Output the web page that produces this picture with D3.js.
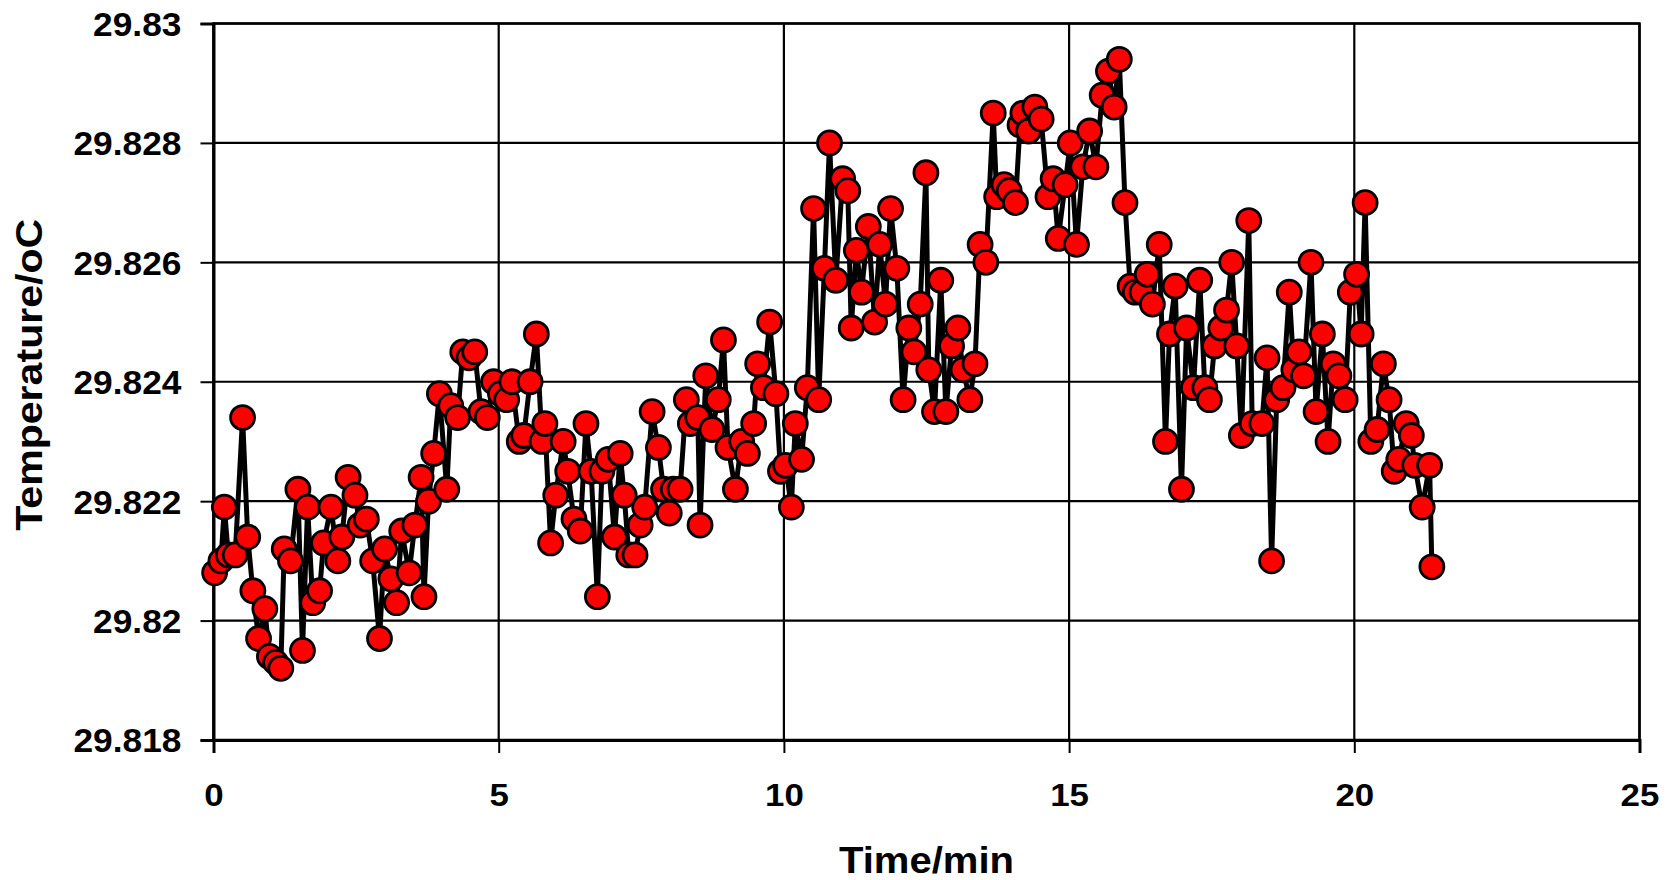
<!DOCTYPE html>
<html>
<head>
<meta charset="utf-8">
<script src="https://cdn.jsdelivr.net/npm/d3@7"></script>
<style>
  html, body { margin: 0; padding: 0; background: #fff; }
  svg { display: block; }
  text { font-family: "Liberation Sans", Arial, sans-serif; font-weight: bold; fill: #000; }
</style>
</head>
<body>
<svg id="chart" width="1677" height="880"></svg>
<script>
// Sampling times (min)
const timeMin = [
  0.02, 0.13, 0.19, 0.26, 0.38, 0.51, 0.60, 0.69, 0.79, 0.90,
  0.98, 1.09, 1.18, 1.24, 1.35, 1.48, 1.56, 1.65, 1.74, 1.86,
  1.93, 2.06, 2.18, 2.25, 2.36, 2.48, 2.57, 2.68, 2.79, 2.91,
  3.00, 3.11, 3.21, 3.30, 3.43, 3.53, 3.64, 3.69, 3.77, 3.86,
  3.96, 4.09, 4.16, 4.28, 4.37, 4.48, 4.58, 4.69, 4.80, 4.91,
  5.03, 5.14, 5.23, 5.36, 5.44, 5.55, 5.66, 5.76, 5.81, 5.91,
  6.00, 6.13, 6.21, 6.32, 6.43, 6.53, 6.62, 6.73, 6.81, 6.92,
  7.03, 7.13, 7.20, 7.28, 7.39, 7.48, 7.56, 7.69, 7.80, 7.89,
  7.99, 8.06, 8.18, 8.29, 8.36, 8.49, 8.53, 8.63, 8.74, 8.85,
  8.94, 9.02, 9.15, 9.26, 9.36, 9.47, 9.54, 9.64, 9.75, 9.86,
  9.94, 10.03, 10.13, 10.20, 10.31, 10.41, 10.52, 10.61, 10.71, 10.80,
  10.91, 11.03, 11.12, 11.18, 11.27, 11.36, 11.48, 11.59, 11.68, 11.78,
  11.87, 11.98, 12.09, 12.19, 12.28, 12.39, 12.49, 12.54, 12.64, 12.75,
  12.84, 12.94, 13.05, 13.14, 13.26, 13.35, 13.44, 13.54, 13.67, 13.73,
  13.86, 13.95, 14.06, 14.14, 14.19, 14.29, 14.40, 14.51, 14.63, 14.72,
  14.81, 14.93, 15.02, 15.13, 15.24, 15.36, 15.47, 15.58, 15.69, 15.79,
  15.88, 15.98, 16.07, 16.16, 16.28, 16.37, 16.46, 16.58, 16.69, 16.76,
  16.86, 16.97, 17.06, 17.18, 17.29, 17.38, 17.46, 17.55, 17.66, 17.76,
  17.85, 17.94, 18.02, 18.15, 18.21, 18.38, 18.47, 18.55, 18.64, 18.75,
  18.86, 18.94, 19.03, 19.11, 19.24, 19.33, 19.44, 19.54, 19.63, 19.73,
  19.84, 19.93, 20.04, 20.12, 20.19, 20.29, 20.40, 20.51, 20.61, 20.70,
  20.78, 20.91, 21.00, 21.06, 21.19, 21.32, 21.36
];

// Measured temperature (oC)
const temperature = [
  29.8208, 29.8210, 29.8219, 29.8211, 29.8211, 29.8234, 29.8214, 29.8205, 29.8197, 29.8202,
  29.8194, 29.8193, 29.8192, 29.8212, 29.8210, 29.8222, 29.8195, 29.8219, 29.8203, 29.8205,
  29.8213, 29.8219, 29.8210, 29.8214, 29.8224, 29.8221, 29.8216, 29.8217, 29.8210, 29.8197,
  29.8212, 29.8207, 29.8203, 29.8215, 29.8208, 29.8216, 29.8224, 29.8204, 29.8220, 29.8228,
  29.8238, 29.8222, 29.8236, 29.8234, 29.8245, 29.8244, 29.8245, 29.8235, 29.8234, 29.8240,
  29.8238, 29.8237, 29.8240, 29.8230, 29.8231, 29.8240, 29.8248, 29.8230, 29.8233, 29.8213,
  29.8221, 29.8230, 29.8225, 29.8217, 29.8215, 29.8233, 29.8225, 29.8204, 29.8225, 29.8227,
  29.8214, 29.8228, 29.8221, 29.8211, 29.8211, 29.8216, 29.8219, 29.8235, 29.8229, 29.8222,
  29.8218, 29.8222, 29.8222, 29.8237, 29.8233, 29.8234, 29.8216, 29.8241, 29.8232, 29.8237,
  29.8247, 29.8229, 29.8222, 29.8230, 29.8228, 29.8233, 29.8243, 29.8239, 29.8250, 29.8238,
  29.8225, 29.8226, 29.8219, 29.8233, 29.8227, 29.8239, 29.8269, 29.8237, 29.8259, 29.8280,
  29.8257, 29.8274, 29.8272, 29.8249, 29.8262, 29.8255, 29.8266, 29.8250, 29.8263, 29.8253,
  29.8269, 29.8259, 29.8237, 29.8249, 29.8245, 29.8253, 29.8275, 29.8242, 29.8235, 29.8257,
  29.8235, 29.8246, 29.8249, 29.8242, 29.8237, 29.8243, 29.8263, 29.8260, 29.8285, 29.8271,
  29.8273, 29.8272, 29.8270, 29.8283, 29.8285, 29.8282, 29.8286, 29.8284, 29.8271, 29.8274,
  29.8264, 29.8273, 29.8280, 29.8263, 29.8276, 29.8282, 29.8276, 29.8288, 29.8292, 29.8286,
  29.8294, 29.8270, 29.8256, 29.8255, 29.8255, 29.8258, 29.8253, 29.8263, 29.8230, 29.8248,
  29.8256, 29.8222, 29.8249, 29.8239, 29.8257, 29.8239, 29.8237, 29.8246, 29.8249, 29.8252,
  29.8260, 29.8246, 29.8231, 29.8267, 29.8233, 29.8233, 29.8244, 29.8210, 29.8237, 29.8239,
  29.8255, 29.8242, 29.8245, 29.8241, 29.8260, 29.8235, 29.8248, 29.8230, 29.8243, 29.8241,
  29.8237, 29.8255, 29.8258, 29.8248, 29.8270, 29.8230, 29.8232, 29.8243, 29.8237, 29.8225,
  29.8227, 29.8233, 29.8231, 29.8226, 29.8219, 29.8226, 29.8209
];

const xTicks = [0, 5, 10, 15, 20, 25];
const yTicks = [29.818, 29.82, 29.822, 29.824, 29.826, 29.828, 29.83];
const xTitle = "Time/min";
const yTitle = "Temperature/oC";

const points = timeMin.map((t, i) => ({ t, v: temperature[i] }));

const plot = { left: 213.5, right: 1639.5, top: 23.5, bottom: 740 };

const x = d3.scaleLinear().domain([0, 25]).range([plot.left, plot.right]);
const y = d3.scaleLinear().domain([29.818, 29.83]).range([plot.bottom, plot.top]);

const svg = d3.select("#chart");

// Horizontal gridlines
svg.append("g")
  .selectAll("line")
  .data(yTicks)
  .join("line")
  .attr("x1", plot.left).attr("x2", plot.right)
  .attr("y1", d => y(d)).attr("y2", d => y(d))
  .attr("stroke", "#000").attr("stroke-width", 2.2);

// Vertical gridlines
svg.append("g")
  .selectAll("line")
  .data(xTicks)
  .join("line")
  .attr("x1", d => x(d)).attr("x2", d => x(d))
  .attr("y1", plot.top).attr("y2", plot.bottom)
  .attr("stroke", "#000").attr("stroke-width", 2.2);

// Y axis
const yAxis = svg.append("g")
  .attr("transform", `translate(${plot.left},0)`)
  .call(d3.axisLeft(y).tickValues(yTicks).tickSize(13).tickPadding(17)
    .tickFormat(d => String(+d.toFixed(3))));
yAxis.select(".domain").attr("stroke", "#000").attr("stroke-width", 3);
yAxis.selectAll(".tick line").attr("stroke", "#000").attr("stroke-width", 2);
yAxis.selectAll(".tick text")
  .attr("font-size", 33)
  .attr("dy", "0.36em")
  .attr("transform", "scale(1.07,1)")
  .style("font-family", "'Liberation Sans', Arial, sans-serif")
  .style("font-weight", "bold");

// X axis
const xAxis = svg.append("g")
  .attr("transform", `translate(0,${plot.bottom})`)
  .call(d3.axisBottom(x).tickValues(xTicks).tickSize(13).tickPadding(0));
xAxis.select(".domain").attr("stroke", "#000").attr("stroke-width", 3);
xAxis.selectAll(".tick line").attr("stroke", "#000").attr("stroke-width", 2);
xAxis.selectAll(".tick text")
  .attr("font-size", 32)
  .attr("y", 66)
  .attr("dy", 0)
  .attr("transform", "scale(1.09,1)")
  .style("font-family", "'Liberation Sans', Arial, sans-serif")
  .style("font-weight", "bold");

// Plot frame (top and right edges)
svg.append("rect")
  .attr("x", plot.left).attr("y", plot.top)
  .attr("width", plot.right - plot.left).attr("height", plot.bottom - plot.top)
  .attr("fill", "none").attr("stroke", "#000").attr("stroke-width", 2.5);

// Temperature trace
const line = d3.line().x(d => x(d.t)).y(d => y(d.v));
svg.append("path")
  .datum(points)
  .attr("d", line)
  .attr("fill", "none")
  .attr("stroke", "#000")
  .attr("stroke-width", 5)
  .attr("stroke-linejoin", "round");

// Markers
svg.append("g")
  .selectAll("circle")
  .data(points)
  .join("circle")
  .attr("cx", d => x(d.t))
  .attr("cy", d => y(d.v))
  .attr("r", 12)
  .attr("fill", "#ff0000")
  .attr("stroke", "#000")
  .attr("stroke-width", 2.8);

// Axis titles
svg.append("text")
  .attr("x", (plot.left + plot.right) / 2)
  .attr("y", 873)
  .attr("text-anchor", "middle")
  .attr("font-size", 37)
  .attr("textLength", 175)
  .attr("lengthAdjust", "spacingAndGlyphs")
  .text(xTitle);

svg.append("text")
  .attr("transform", `translate(42,${(plot.top + plot.bottom) / 2 - 7}) rotate(-90)`)
  .attr("text-anchor", "middle")
  .attr("font-size", 37)
  .attr("textLength", 312)
  .attr("lengthAdjust", "spacingAndGlyphs")
  .text(yTitle);
</script>
</body>
</html>
